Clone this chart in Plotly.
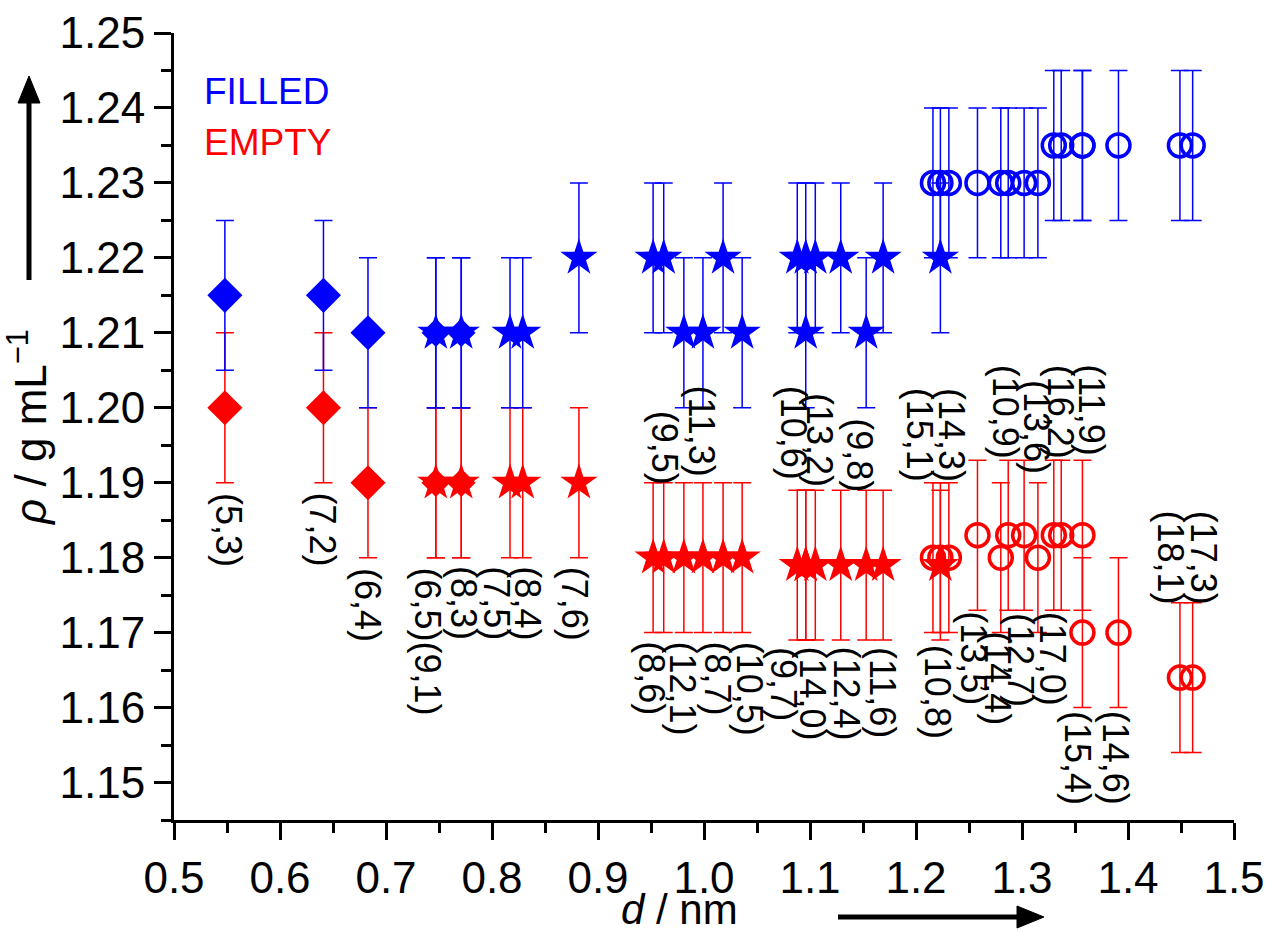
import plotly.graph_objects as go

# --- data: tube diameter d (nm) and buoyant density rho (g/mL) ---
# diamond group
dia_d = [0.548, 0.641, 0.683]
dia_rho_filled = [1.215, 1.215, 1.210]
dia_rho_empty = [1.200, 1.200, 1.190]

# overlapping diamond+star points
mix_d = [0.747, 0.771]
mix_rho_filled = [1.210, 1.210]
mix_rho_empty = [1.190, 1.190]

# star group
star_d = [0.747, 0.771, 0.817, 0.829, 0.882, 0.952, 0.962, 0.981, 0.999, 1.018,
          1.036, 1.088, 1.096, 1.096, 1.105, 1.129, 1.153, 1.169, 1.223]
star_rho_filled = [1.210, 1.210, 1.210, 1.210, 1.220, 1.220, 1.220, 1.210, 1.210, 1.220,
                   1.210, 1.220, 1.220, 1.210, 1.220, 1.220, 1.210, 1.220, 1.220]
star_rho_empty = [1.190, 1.190, 1.190, 1.190, 1.190, 1.180, 1.180, 1.180, 1.180, 1.180,
                  1.180, 1.179, 1.179, 1.179, 1.179, 1.179, 1.179, 1.179, 1.179]

# circle group
circ_d = [1.216, 1.223, 1.231, 1.258, 1.280, 1.287, 1.302, 1.315, 1.330, 1.337,
          1.357, 1.357, 1.391, 1.449, 1.461]
circ_rho_filled = [1.230, 1.230, 1.230, 1.230, 1.230, 1.230, 1.230, 1.230, 1.235, 1.235,
                   1.235, 1.235, 1.235, 1.235, 1.235]
circ_rho_empty = [1.180, 1.180, 1.180, 1.183, 1.180, 1.183, 1.183, 1.180, 1.183, 1.183,
                  1.183, 1.170, 1.170, 1.164, 1.164]

rho_err = 0.01

# chirality labels: text, d position, rho at top of label
label_text = ["(5,3)", "(7,2)", "(6,4)", "(6,5)(9,1)", "(8,3)", "(7,5)", "(8,4)", "(7,6)",
              "(9,5)", "(11,3)", "(10,6)", "(13,2)", "(9,8)", "(15,1)", "(14,3)",
              "(10,9)", "(13,6)", "(16,2)", "(11,9)",
              "(8,6)", "(12,1)", "(8,7)", "(10,5)", "(9,7)", "(14,0)", "(12,4)", "(11,6)",
              "(10,8)", "(13,5)", "(14,4)", "(12,7)", "(17,0)", "(15,4)", "(14,6)",
              "(18,1)", "(17,3)"]
label_d = [0.551, 0.640, 0.682, 0.739, 0.773, 0.804, 0.834, 0.878,
           0.963, 0.998, 1.084, 1.109, 1.147, 1.204, 1.234,
           1.284, 1.313, 1.336, 1.366,
           0.951, 0.980, 1.013, 1.043, 1.075, 1.102, 1.134, 1.169,
           1.221, 1.254, 1.277, 1.298, 1.329, 1.353, 1.389,
           1.440, 1.471]
label_rho = [1.1889, 1.1889, 1.1789, 1.1789, 1.1791, 1.1791, 1.1791, 1.1791,
             1.1999, 1.2032, 1.2032, 1.2023, 1.1989, 1.2029, 1.2029,
             1.2060, 1.2040, 1.2060, 1.2060,
             1.1691, 1.1691, 1.1691, 1.1691, 1.1684, 1.1684, 1.1684, 1.1684,
             1.1686, 1.1731, 1.1705, 1.1729, 1.1731, 1.1598, 1.1598,
             1.1865, 1.1865]

x_ticks = [0.5, 0.6, 0.7, 0.8, 0.9, 1.0, 1.1, 1.2, 1.3, 1.4, 1.5]
y_ticks = [1.15, 1.16, 1.17, 1.18, 1.19, 1.20, 1.21, 1.22, 1.23, 1.24, 1.25]

BLUE = "rgb(0,0,255)"
RED = "rgb(255,0,0)"
FONT = "Arial, Liberation Sans, sans-serif"

W, H = 1270, 932
ML, MR, MT, MB = 174, 36, 33, 112
PW, PH = W - ML - MR, H - MT - MB


def px(xp):
    """page pixel column -> paper x"""
    return (xp - ML) / PW


def py(yp):
    """page pixel row -> paper y"""
    return (H - MB - yp) / PH


def series(x, y, color, symbol, size, line_w=0):
    return go.Scatter(
        x=x, y=y, mode="markers", showlegend=False, cliponaxis=False,
        marker=dict(symbol=symbol, size=size, color=color,
                    line=dict(width=line_w, color=color)),
        error_y=dict(type="constant", value=rho_err, color=color,
                     thickness=1.5, width=9),
    )


fig = go.Figure()
for color, dr, mr, sr, cr in [
    (RED, dia_rho_empty, mix_rho_empty, star_rho_empty, circ_rho_empty),
    (BLUE, dia_rho_filled, mix_rho_filled, star_rho_filled, circ_rho_filled),
]:
    fig.add_trace(series(dia_d, dr, color, "diamond", 27))
    fig.add_trace(series(circ_d, cr, color, "circle-open", 23, 3.5))
    fig.add_trace(series(star_d, sr, color, "star", 28))
    fig.add_trace(series(mix_d, mr, color, "diamond", 22))

annotations = []
for t, xd, yr in zip(label_text, label_d, label_rho):
    annotations.append(dict(
        x=xd, y=yr, xref="x", yref="y", text=t, showarrow=False,
        textangle=90, xanchor="center", yanchor="top",
        font=dict(family=FONT, size=36, color="black"),
    ))

# key text
annotations += [
    dict(x=px(202), y=py(92), xref="paper", yref="paper", text="FILLED",
         showarrow=False, xanchor="left", yanchor="middle",
         font=dict(family=FONT, size=37, color=BLUE)),
    dict(x=px(202), y=py(142), xref="paper", yref="paper", text="EMPTY",
         showarrow=False, xanchor="left", yanchor="middle",
         font=dict(family=FONT, size=37, color=RED)),
]

# x-axis title, set a little left of the plot centre
annotations.append(dict(
    x=px(679), y=py(909), xref="paper", yref="paper",
    text="<i>d</i> / nm", showarrow=False, borderpad=0,
    xanchor="center", yanchor="middle",
    font=dict(family=FONT, size=42, color="black"),
))


def arrow_shapes(x0, y0, x1, y1, head_len=27, head_half=11, width=5):
    """shaft + filled head from (x0,y0) to tip (x1,y1), page pixels"""
    dx, dy = x1 - x0, y1 - y0
    n = (dx * dx + dy * dy) ** 0.5
    ux, uy = dx / n, dy / n
    bx, by = x1 - ux * head_len, y1 - uy * head_len
    nx, ny = -uy, ux
    shaft = dict(type="line", xref="paper", yref="paper",
                 x0=px(x0), y0=py(y0), x1=px(bx + ux * 2), y1=py(by + uy * 2),
                 line=dict(color="black", width=width))
    head = dict(type="path", xref="paper", yref="paper",
                path=(f"M {px(bx + nx * head_half)},{py(by + ny * head_half)} "
                      f"L {px(bx - nx * head_half)},{py(by - ny * head_half)} "
                      f"L {px(x1)},{py(y1)} Z"),
                fillcolor="black", line=dict(color="black", width=1))
    return [shaft, head]


shapes = arrow_shapes(29, 280, 29, 76) + arrow_shapes(838, 917, 1044, 917)

axis_common = dict(
    showline=True, linecolor="black", linewidth=3, mirror=False,
    ticks="outside", ticklen=17, tickwidth=3, tickcolor="black",
    showgrid=False, zeroline=False, automargin=False,
    tickfont=dict(family=FONT, size=44, color="black"),
)

fig.update_layout(
    width=W, height=H,
    margin=dict(l=ML, r=MR, t=MT, b=MB),
    plot_bgcolor="white", paper_bgcolor="white",
    annotations=annotations,
    shapes=shapes,
    xaxis=dict(range=[0.5, 1.5], tickvals=x_ticks,
               ticktext=[f"{v:.1f}" for v in x_ticks],
               minor=dict(dtick=0.05, tick0=0.5, ticks="outside", ticklen=10,
                          tickwidth=3, tickcolor="black"),
               **axis_common),
    yaxis=dict(range=[1.145, 1.25], tickvals=y_ticks,
               ticktext=[f"{v:.2f}" for v in y_ticks],
               minor=dict(dtick=0.005, tick0=1.145, ticks="outside", ticklen=10,
                          tickwidth=3, tickcolor="black"),
               title=dict(text="<i>ρ</i> / g mL<sup>−1</sup>", standoff=4,
                          font=dict(family=FONT, size=44, color="black")),
               **axis_common),
)

fig.write_html("out.html")
